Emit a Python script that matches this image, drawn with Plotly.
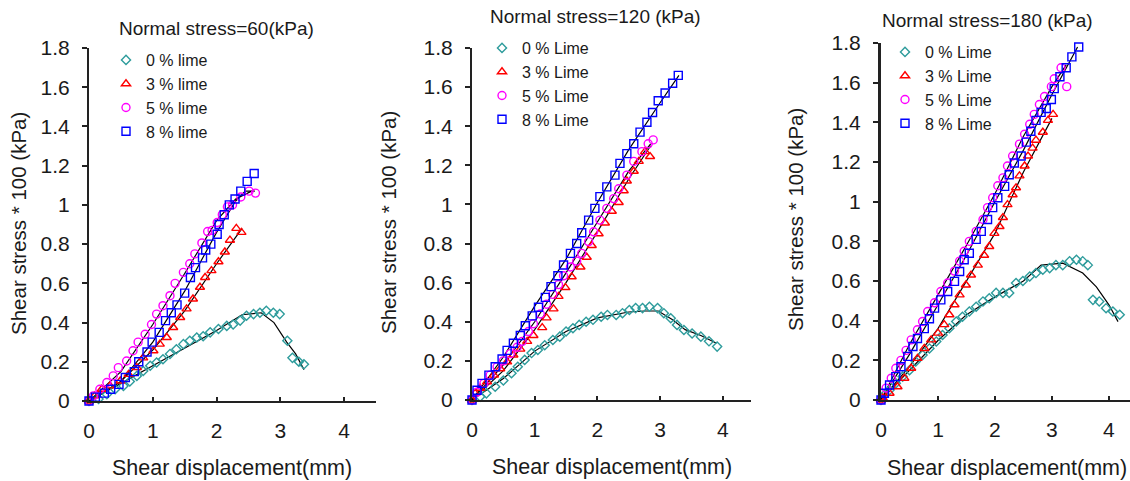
import plotly.graph_objects as go

# ---------------- data ----------------
LEGEND_60 = ["0 % lime", "3 % lime", "5 % lime", "8 % lime"]
LEGEND_120 = ["0 % Lime", "3 % Lime", "5 % Lime", "8 % Lime"]
LEGEND_180 = ["0 % Lime", "3 % Lime", "5 % Lime", "8 % Lime"]
TITLES = ["Normal stress=60(kPa)", "Normal stress=120 (kPa)", "Normal stress=180 (kPa)"]
Y_TITLE = "Shear stress * 100 (kPa)"
X_TITLE = "Shear displacement(mm)"
Y_TICKS = [0, 0.2, 0.4, 0.6, 0.8, 1.0, 1.2, 1.4, 1.6, 1.8]
X_TICKS = [0, 1, 2, 3, 4]

# Normal stress 60 kPa
N60_X0 = [0, 0.15, 0.28, 0.41, 0.54, 0.64, 0.75, 0.85, 0.96, 1.06, 1.16, 1.27, 1.37, 1.48, 1.58, 1.69,
          1.79, 1.90, 2.03, 2.16, 2.26, 2.37, 2.47, 2.58, 2.68, 2.78, 2.89, 2.99, 3.11, 3.19, 3.29, 3.37]
N60_Y0 = [0, 0.01, 0.034, 0.06, 0.077, 0.10, 0.128, 0.153, 0.18, 0.196, 0.213, 0.24, 0.264, 0.29, 0.307, 0.324,
          0.33, 0.35, 0.367, 0.383, 0.39, 0.41, 0.435, 0.443, 0.45, 0.46, 0.45, 0.443, 0.307, 0.22, 0.20, 0.187]
N60_X3 = [0, 0.09, 0.2, 0.33, 0.49, 0.62, 0.75, 0.85, 1.01, 1.11, 1.22, 1.32, 1.43, 1.53, 1.63, 1.74, 1.82,
          1.92, 2.03, 2.13, 2.21, 2.31, 2.39]
N60_Y3 = [0, 0.026, 0.06, 0.077, 0.102, 0.136, 0.17, 0.22, 0.256, 0.29, 0.324, 0.375, 0.426, 0.47, 0.52, 0.58,
          0.63, 0.665, 0.71, 0.76, 0.82, 0.88, 0.86]
N60_X5 = [0, 0.07, 0.17, 0.28, 0.38, 0.46, 0.59, 0.69, 0.77, 0.88, 0.98, 1.06, 1.16, 1.27, 1.35, 1.48, 1.58,
          1.66, 1.77, 1.86, 1.93, 2.01, 2.09, 2.17, 2.25, 2.38, 2.51, 2.61]
N60_Y5 = [0, 0.026, 0.06, 0.094, 0.128, 0.17, 0.204, 0.256, 0.30, 0.34, 0.39, 0.443, 0.486, 0.537, 0.60, 0.656,
          0.70, 0.75, 0.806, 0.864, 0.87, 0.91, 0.95, 0.99, 1.0, 1.04, 1.07, 1.06]
N60_X8 = [0, 0.1, 0.24, 0.34, 0.47, 0.57, 0.71, 0.78, 0.91, 0.99, 1.1, 1.2, 1.29, 1.38, 1.5, 1.59, 1.67, 1.78,
          1.83, 1.91, 2.01, 2.04, 2.12, 2.2, 2.29, 2.38, 2.48, 2.59]
N60_Y8 = [0, 0.02, 0.04, 0.06, 0.085, 0.12, 0.15, 0.2, 0.25, 0.3, 0.35, 0.41, 0.45, 0.49, 0.55, 0.63, 0.68, 0.73,
          0.77, 0.8, 0.85, 0.9, 0.95, 1.0, 1.03, 1.07, 1.12, 1.16]
# fitted (black) curves
N60_FX0 = [0, 0.5, 1, 1.5, 2, 2.4, 2.7, 2.9, 3.1, 3.24, 3.37]
N60_FY0 = [0, 0.09, 0.18, 0.27, 0.36, 0.44, 0.45, 0.40, 0.30, 0.24, 0.16]
N60_FX3 = [0, 0.5, 1, 1.5, 2, 2.4]
N60_FY3 = [0, 0.1, 0.26, 0.46, 0.70, 0.88]
N60_FX5 = [0, 0.5, 1, 1.5, 2, 2.3, 2.55]
N60_FY5 = [0, 0.15, 0.39, 0.65, 0.92, 1.03, 1.07]
N60_FX8 = [0, 0.5, 1, 1.5, 2, 2.3, 2.45, 2.6]
N60_FY8 = [0, 0.1, 0.3, 0.56, 0.86, 1.02, 1.07, 1.07]

# Normal stress 120 kPa
N120_X0 = [0, 0.13, 0.23, 0.37, 0.50, 0.63, 0.73, 0.84, 0.95, 1.05, 1.16, 1.29, 1.40, 1.50, 1.61, 1.71, 1.82,
           1.93, 2.06, 2.16, 2.30, 2.40, 2.51, 2.61, 2.72, 2.83, 2.96, 3.06, 3.17, 3.27, 3.38, 3.51, 3.65, 3.78, 3.91]
N120_Y0 = [0, 0.017, 0.034, 0.068, 0.10, 0.137, 0.17, 0.205, 0.24, 0.256, 0.28, 0.307, 0.324, 0.35, 0.367, 0.384,
           0.40, 0.41, 0.426, 0.435, 0.435, 0.444, 0.46, 0.47, 0.47, 0.477, 0.47, 0.444, 0.418, 0.384, 0.358, 0.34,
           0.324, 0.30, 0.273]
N120_X3 = [0, 0.05, 0.13, 0.24, 0.35, 0.45, 0.56, 0.66, 0.77, 0.88, 0.98, 1.12, 1.19, 1.30, 1.38, 1.49, 1.59,
           1.73, 1.83, 1.91, 2.02, 2.12, 2.23, 2.34, 2.42, 2.47, 2.58, 2.66, 2.76, 2.84]
N120_Y3 = [0, 0.034, 0.06, 0.093, 0.127, 0.16, 0.195, 0.23, 0.26, 0.30, 0.33, 0.37, 0.42, 0.466, 0.53, 0.575,
           0.63, 0.68, 0.73, 0.79, 0.85, 0.905, 0.965, 1.01, 1.07, 1.12, 1.17, 1.22, 1.27, 1.245]
N120_X5 = [0, 0.08, 0.19, 0.29, 0.40, 0.50, 0.61, 0.72, 0.80, 0.90, 0.98, 1.09, 1.19, 1.29, 1.38, 1.46, 1.57,
           1.67, 1.75, 1.86, 1.94, 2.04, 2.15, 2.26, 2.34, 2.47, 2.58, 2.71, 2.81, 2.89]
N120_Y5 = [0, 0.04, 0.085, 0.127, 0.17, 0.20, 0.237, 0.27, 0.30, 0.35, 0.39, 0.44, 0.49, 0.54, 0.59, 0.635,
           0.68, 0.71, 0.75, 0.81, 0.86, 0.92, 0.98, 1.03, 1.08, 1.15, 1.22, 1.27, 1.31, 1.33]
N120_X8 = [0, 0.08, 0.16, 0.27, 0.37, 0.48, 0.56, 0.66, 0.77, 0.85, 0.96, 1.06, 1.17, 1.26, 1.37, 1.46, 1.57,
           1.67, 1.75, 1.86, 1.96, 2.04, 2.15, 2.28, 2.36, 2.47, 2.58, 2.68, 2.79, 2.88, 2.97, 3.08, 3.20, 3.29]
N120_Y8 = [0, 0.05, 0.085, 0.127, 0.17, 0.21, 0.254, 0.29, 0.33, 0.38, 0.43, 0.474, 0.525, 0.58, 0.635, 0.69,
           0.75, 0.80, 0.855, 0.92, 0.98, 1.04, 1.09, 1.15, 1.21, 1.26, 1.31, 1.37, 1.42, 1.47, 1.53, 1.57, 1.62, 1.66]
N120_FX0 = [0, 0.5, 1, 1.5, 2, 2.5, 2.75, 2.97, 3.2, 3.4, 3.65, 3.9]
N120_FY0 = [0, 0.11, 0.25, 0.35, 0.42, 0.45, 0.455, 0.455, 0.41, 0.36, 0.33, 0.29]
N120_FX3 = [0, 0.5, 1, 1.5, 2, 2.5, 2.85]
N120_FY3 = [0, 0.15, 0.36, 0.60, 0.86, 1.13, 1.30]
N120_FX5 = [0, 0.5, 1, 1.5, 2, 2.5, 2.85]
N120_FY5 = [0, 0.18, 0.40, 0.65, 0.91, 1.17, 1.31]
N120_FX8 = [0, 0.5, 1, 1.5, 2, 2.5, 3, 3.3]
N120_FY8 = [0, 0.22, 0.48, 0.72, 1.01, 1.28, 1.52, 1.66]

# Normal stress 180 kPa
N180_X0 = [0, 0.06, 0.15, 0.26, 0.38, 0.50, 0.61, 0.73, 0.85, 0.97, 1.08, 1.20, 1.32, 1.43, 1.55, 1.67, 1.79,
           1.90, 2.02, 2.14, 2.25, 2.37, 2.49, 2.61, 2.72, 2.84, 2.96, 3.07, 3.19, 3.31, 3.43, 3.54, 3.63, 3.72,
           3.83, 3.95, 4.07, 4.19]
N180_Y0 = [0, 0.025, 0.05, 0.084, 0.118, 0.15, 0.194, 0.227, 0.26, 0.295, 0.328, 0.362, 0.396, 0.42, 0.446,
           0.47, 0.497, 0.513, 0.54, 0.54, 0.54, 0.59, 0.60, 0.623, 0.64, 0.657, 0.665, 0.68, 0.68, 0.70, 0.707,
           0.70, 0.68, 0.505, 0.497, 0.463, 0.446, 0.43]
N180_X3 = [0, 0.03, 0.15, 0.29, 0.41, 0.53, 0.64, 0.76, 0.88, 1.0, 1.11, 1.20, 1.29, 1.38, 1.49, 1.58, 1.70,
           1.81, 1.90, 1.99, 2.08, 2.14, 2.22, 2.31, 2.37, 2.43, 2.52, 2.58, 2.66, 2.72, 2.84, 2.93, 3.02]
N180_Y3 = [0, 0.01, 0.034, 0.067, 0.11, 0.16, 0.21, 0.26, 0.303, 0.337, 0.38, 0.43, 0.48, 0.53, 0.58, 0.63,
           0.68, 0.73, 0.774, 0.84, 0.875, 0.92, 0.985, 1.035, 1.07, 1.13, 1.18, 1.23, 1.27, 1.31, 1.35, 1.41, 1.44]
N180_X5 = [0, 0.09, 0.18, 0.26, 0.35, 0.44, 0.53, 0.64, 0.73, 0.82, 0.94, 1.05, 1.17, 1.29, 1.38, 1.46, 1.55,
           1.67, 1.79, 1.87, 1.96, 2.05, 2.14, 2.22, 2.31, 2.43, 2.52, 2.61, 2.69, 2.78, 2.87, 2.99, 3.04, 3.16, 3.26]
N180_Y5 = [0, 0.06, 0.11, 0.16, 0.20, 0.25, 0.303, 0.354, 0.396, 0.446, 0.49, 0.547, 0.59, 0.65, 0.70, 0.75,
           0.80, 0.85, 0.91, 0.97, 1.02, 1.08, 1.12, 1.18, 1.23, 1.29, 1.34, 1.39, 1.44, 1.49, 1.53, 1.58, 1.62,
           1.675, 1.58]
N180_X8 = [0, 0.06, 0.15, 0.26, 0.35, 0.47, 0.56, 0.64, 0.76, 0.85, 0.94, 1.05, 1.17, 1.29, 1.38, 1.46, 1.55,
           1.67, 1.76, 1.87, 1.96, 2.05, 2.17, 2.25, 2.34, 2.46, 2.55, 2.63, 2.72, 2.81, 2.90, 2.99, 3.04, 3.14,
           3.25, 3.35, 3.47]
N180_Y8 = [0, 0.034, 0.076, 0.118, 0.168, 0.22, 0.27, 0.31, 0.36, 0.41, 0.463, 0.505, 0.547, 0.598, 0.648,
           0.707, 0.74, 0.81, 0.85, 0.91, 0.97, 1.02, 1.077, 1.136, 1.195, 1.23, 1.30, 1.355, 1.41, 1.45, 1.47,
           1.515, 1.57, 1.63, 1.675, 1.73, 1.78]
N180_FX0 = [0, 0.5, 1, 1.5, 2, 2.5, 2.81, 3.19, 3.54, 3.78, 4.0, 4.16]
N180_FY0 = [0, 0.15, 0.30, 0.43, 0.52, 0.60, 0.68, 0.69, 0.64, 0.57, 0.48, 0.395]
N180_FX3 = [0, 0.5, 1, 1.5, 2, 2.5, 3.0]
N180_FY3 = [0, 0.17, 0.36, 0.60, 0.84, 1.15, 1.42]
N180_FX5 = [0, 0.5, 1, 1.5, 2, 2.5, 3.0, 3.25]
N180_FY5 = [0, 0.28, 0.53, 0.78, 1.04, 1.33, 1.58, 1.69]
N180_FX8 = [0, 0.5, 1, 1.5, 2, 2.5, 3, 3.45]
N180_FY8 = [0, 0.23, 0.48, 0.73, 1.0, 1.26, 1.54, 1.78]

# ---------------- styling ----------------
W, H = 1130, 481
FONT = "Liberation Sans, Arial, sans-serif"
SYMBOLS = ["diamond-open", "triangle-up-open", "circle-open", "square-open"]
COLORS = ["#2e9c9c", "#ff0000", "#ff00ff", "#0000ff"]
SIZES = [7, 8, 8, 8]

PANELS = [
    dict(xl=89, xmax=4.5, xr=376, yb=401, yt=48, leg=(106, 43), lfs=16, alw=2),
    dict(xl=472, xmax=4.45, xr=751, yb=400, yt=48, leg=(482, 31), lfs=16, alw=2),
    dict(xl=881, xmax=4.37, xr=1130, yb=400, yt=43, leg=(885, 35), lfs=16, alw=3),
]
TITLE_POS = [(216, 28), (595, 17), (987, 20)]
YT_POS = [(18, 224), (388, 223), (795, 220)]
XT_POS = [(232, 468), (612, 467), (1007, 468)]

DATA = [
    ([N60_X0, N60_X3, N60_X5, N60_X8], [N60_Y0, N60_Y3, N60_Y5, N60_Y8],
     [N60_FX0, N60_FX3, N60_FX5, N60_FX8], [N60_FY0, N60_FY3, N60_FY5, N60_FY8], LEGEND_60),
    ([N120_X0, N120_X3, N120_X5, N120_X8], [N120_Y0, N120_Y3, N120_Y5, N120_Y8],
     [N120_FX0, N120_FX3, N120_FX5, N120_FX8], [N120_FY0, N120_FY3, N120_FY5, N120_FY8], LEGEND_120),
    ([N180_X0, N180_X3, N180_X5, N180_X8], [N180_Y0, N180_Y3, N180_Y5, N180_Y8],
     [N180_FX0, N180_FX3, N180_FX5, N180_FX8], [N180_FY0, N180_FY3, N180_FY5, N180_FY8], LEGEND_180),
]

fig = go.Figure()
layout = dict(
    width=W, height=H, margin=dict(l=0, r=0, t=0, b=0, autoexpand=False),
    paper_bgcolor="white", plot_bgcolor="white",
    font=dict(family=FONT, color="#1a1a1a"),
    annotations=[],
)

for i, (xs, ys, fxs, fys, names) in enumerate(DATA):
    n = "" if i == 0 else str(i + 1)
    xa, ya = "x" + n, "y" + n
    leg = "legend" + n
    p = PANELS[i]
    for fx, fy in zip(fxs, fys):
        fig.add_trace(go.Scatter(x=fx, y=fy, mode="lines", xaxis=xa, yaxis=ya,
                                 line=dict(color="black", width=1.2), showlegend=False,
                                 hoverinfo="skip"))
    for k in range(4):
        fig.add_trace(go.Scatter(x=xs[k], y=ys[k], mode="markers", name=names[k],
                                 xaxis=xa, yaxis=ya, legend=leg, cliponaxis=False,
                                 marker=dict(symbol=SYMBOLS[k], size=SIZES[k], color=COLORS[k],
                                             line=dict(width=1.4, color=COLORS[k]))))
    layout["xaxis" + n] = dict(
        domain=[p["xl"] / W, p["xr"] / W], range=[0, p["xmax"]], anchor=ya, automargin=False,
        tickvals=X_TICKS, ticks="inside", ticklen=4, tickwidth=1.5, tickcolor="#222",
        showline=True, linecolor="#222", linewidth=2, showgrid=False, zeroline=False,
        tickfont=dict(size=21, family=FONT, color="#1a1a1a"), ticklabelstandoff=10,
    )
    layout["yaxis" + n] = dict(
        domain=[1 - p["yb"] / H, 1 - p["yt"] / H], range=[0, 1.8], anchor=xa, automargin=False,
        tickvals=Y_TICKS, ticks="outside", ticklen=5, tickwidth=1.5, tickcolor="#222",
        showline=True, linecolor="#222", linewidth=p["alw"], showgrid=False, zeroline=False,
        tickfont=dict(size=21, family=FONT, color="#1a1a1a"), ticklabelstandoff=8,
    )
    layout[leg] = dict(
        x=p["leg"][0] / W, y=1 - p["leg"][1] / H, xanchor="left", yanchor="top",
        bgcolor="rgba(0,0,0,0)", borderwidth=0, tracegroupgap=0,
        font=dict(size=p["lfs"], family=FONT, color="#1a1a1a"), itemwidth=30,
    )
    layout["annotations"].append(dict(
        text=TITLES[i], x=TITLE_POS[i][0] / W, y=1 - TITLE_POS[i][1] / H, xref="paper", yref="paper",
        showarrow=False, xanchor="center", yanchor="middle", font=dict(size=19, family=FONT, color="#1a1a1a")))
    layout["annotations"].append(dict(
        text=Y_TITLE, x=YT_POS[i][0] / W, y=1 - YT_POS[i][1] / H, xref="paper", yref="paper",
        showarrow=False, xanchor="center", yanchor="middle", textangle=-90,
        font=dict(size=20.5, family=FONT, color="#1a1a1a")))
    layout["annotations"].append(dict(
        text=X_TITLE, x=XT_POS[i][0] / W, y=1 - XT_POS[i][1] / H, xref="paper", yref="paper",
        showarrow=False, xanchor="center", yanchor="middle",
        font=dict(size=21.5, family=FONT, color="#1a1a1a")))

fig.update_layout(**layout)
fig.write_html("out.html", config={"displayModeBar": False},
               post_script="document.body.style.margin='0';")
